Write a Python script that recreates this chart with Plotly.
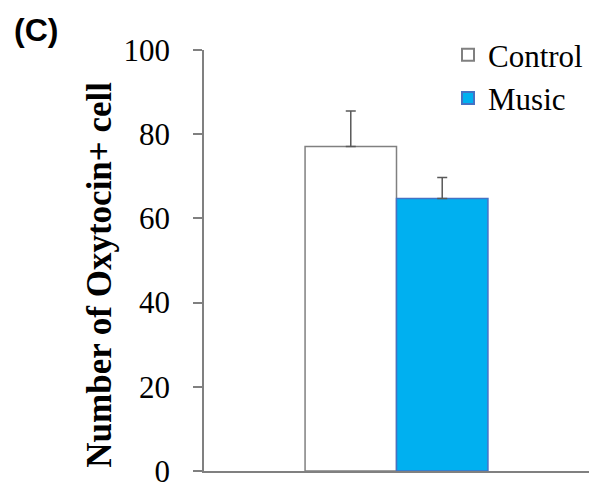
import plotly.graph_objects as go

groups = ["Control", "Music"]
means = [77.1, 64.7]
sems = [8.4, 5.0]
colors = ["#FFFFFF", "#00B0F0"]
borders = ["#808080", "#4472C4"]
yticks = [0, 20, 40, 60, 80, 100]
ytitle = "Number of Oxytocin+ cell"
panel = "(C)"

# page has an 8px body margin; keep the figure inside the window
OFF = 8
W, H = 599 - 2 * OFF, 485 - OFF
L = 204 - OFF
T = 50 - OFF
R = W - (589 - OFF)
B = H - (471.5 - OFF)
pw = W - L - R
ph = H - T - B


def px_x(x):
    return (x - OFF - L) / pw


def px_y(y):
    return (H - B - (y - OFF)) / ph


fig = go.Figure()
for g, m, s, c, bc in zip(groups, means, sems, colors, borders):
    fig.add_trace(go.Bar(
        x=[""], y=[m], name=g,
        marker=dict(color=c, line=dict(color=bc, width=1.5)),
        error_y=dict(type="data", array=[s], arrayminus=[0], symmetric=False,
                     color="#595959", thickness=1.5, width=5),
        cliponaxis=False,
    ))

fig.update_layout(
    width=W, height=H,
    margin=dict(l=L, r=R, t=T, b=B, pad=0, autoexpand=False),
    paper_bgcolor="white", plot_bgcolor="white",
    barmode="group", bargap=0.525, bargroupgap=0,
    font=dict(family="Liberation Serif", color="black"),
    showlegend=True,
    legend=dict(x=px_x(448), y=px_y(28), xanchor="left", yanchor="top",
                font=dict(family="Liberation Serif", size=31, color="black"),
                bgcolor="rgba(0,0,0,0)", tracegroupgap=0, itemsizing="constant"),
    xaxis=dict(range=[-0.5, 0.5], showline=True, linecolor="#808080", linewidth=1.5,
               showticklabels=False, ticks="", showgrid=False, zeroline=False,
               fixedrange=True),
    yaxis=dict(range=[0, 100], tickvals=yticks, showline=True, linecolor="#808080",
               linewidth=1.5, ticks="outside", ticklen=9, tickcolor="#808080",
               tickwidth=1.5, showgrid=False, zeroline=False,
               tickfont=dict(family="Liberation Serif", size=31, color="black"),
               ticklabelstandoff=17, ticklabeloverflow="allow"),
    annotations=[
        dict(text="<b>" + ytitle + "</b>", textangle=-90, xref="paper", yref="paper",
             x=px_x(100), y=px_y(275), xanchor="center", yanchor="middle",
             showarrow=False, font=dict(family="Liberation Serif", size=35, color="black")),
        dict(text="<b>" + panel + "</b>", xref="paper", yref="paper",
             x=px_x(12), y=px_y(10), xanchor="left", yanchor="top",
             showarrow=False, font=dict(family="Liberation Sans", size=32, color="black")),
    ],
)
fig.write_html("out.html")
